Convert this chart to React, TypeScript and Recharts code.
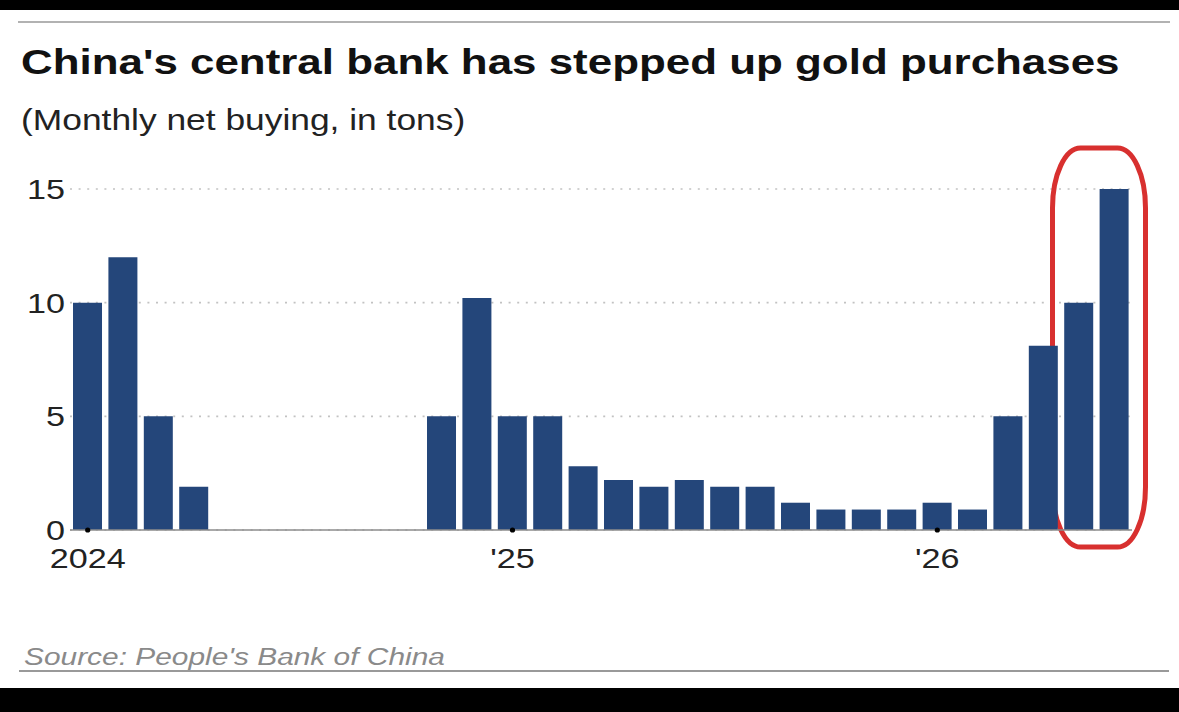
import React from 'react';
import { BarChart, Bar, XAxis, YAxis, CartesianGrid, ReferenceArea } from 'recharts';

// ---- data ----
const months: string[] = [
  '2024-01', '2024-02', '2024-03', '2024-04', '2024-05', '2024-06',
  '2024-07', '2024-08', '2024-09', '2024-10', '2024-11', '2024-12',
  '2025-01', '2025-02', '2025-03', '2025-04', '2025-05', '2025-06',
  '2025-07', '2025-08', '2025-09', '2025-10', '2025-11', '2025-12',
  '2026-01', '2026-02', '2026-03', '2026-04', '2026-05', '2026-06',
];
const tons: number[] = [
  10, 12, 5, 1.9, 0, 0, 0, 0, 0, 0, 5, 10.2,
  5, 5, 2.8, 2.2, 1.9, 2.2, 1.9, 1.9, 1.2, 0.9, 0.9, 0.9,
  1.2, 0.9, 5, 8.1, 10, 15,
];
const xTickValues: string[] = ['2024-01', '2025-01', '2026-01'];
const xTickLabels: string[] = ['2024', "'25", "'26"];
const yTickValues: number[] = [0, 5, 10, 15];
const highlightFrom = '2026-05';
const highlightTo = '2026-06';

const title = "China's central bank has stepped up gold purchases";
const subtitle = '(Monthly net buying, in tons)';
const source = "Source: People's Bank of China";

const data = months.map((m, i) => ({ month: m, tons: tons[i] }));
const labelFor: Record<string, string> = {};
xTickValues.forEach((v, i) => { labelFor[v] = xTickLabels[i]; });

// ---- style ----
const FONT = '"Liberation Sans", Arial, Helvetica, sans-serif';
const SX = 1.22; // horizontal stretch of the text in the reference
const BAR = '#24467a';
const X_TICK_MARGIN = 18;

const YTick = (props: any) => {
  const { x, y, payload } = props;
  return (
    <text
      transform={`translate(${x},${y}) scale(${SX},1)`}
      textAnchor="end"
      dy="0.355em"
      fontSize={28}
      fontFamily={FONT}
      fill="#222"
    >
      {payload.value}
    </text>
  );
};

const XTick = (props: any) => {
  const { x, y, payload } = props;
  return (
    <g>
      <circle cx={x} cy={y - X_TICK_MARGIN} r={2.6} fill="#000" />
      <text
        transform={`translate(${x},${y}) scale(${SX},1)`}
        textAnchor="middle"
        dy="0.71em"
        fontSize={28}
        fontFamily={FONT}
        fill="#222"
      >
        {labelFor[payload.value] ?? ''}
      </text>
    </g>
  );
};

const Highlight = (props: any) => {
  const { x, y, width, height } = props;
  return (
    <rect
      x={x - 8.7}
      y={y}
      width={width + 22.2}
      height={height}
      rx={28}
      ry={60}
      fill="none"
      stroke="#d8302f"
      strokeWidth={5}
    />
  );
};

export default function App() {
  return (
    <div
      style={{
        position: 'absolute',
        left: 0,
        top: 0,
        width: 1179,
        height: 712,
        background: '#fff',
        overflow: 'hidden',
      }}
    >
      <div style={{ position: 'absolute', left: 0, top: 0, width: 1179, height: 10, background: '#000' }} />
      <svg
        width={1179}
        height={712}
        style={{ position: 'absolute', left: 0, top: 0 }}
      >
        <line x1={18} x2={1170} y1={22} y2={22} stroke="#999" strokeWidth={1.5} />
        <text
          transform={`translate(21,73.5) scale(${SX},1)`}
          fontSize={36}
          fontWeight="bold"
          fontFamily={FONT}
          fill="#111"
        >
          {title}
        </text>
        <text
          transform={`translate(21,130) scale(${SX},1)`}
          fontSize={29}
          fontFamily={FONT}
          fill="#222"
        >
          {subtitle}
        </text>
        <text
          transform={`translate(24,665) scale(${SX},1)`}
          fontSize={24.5}
          fontStyle="italic"
          fontFamily={FONT}
          fill="#8a8a8a"
        >
          {source}
        </text>
        <line x1={19} x2={1169} y1={671} y2={671} stroke="#999" strokeWidth={2} />
      </svg>
      <div style={{ position: 'absolute', left: 0, top: 120 }}>
        <BarChart
          width={1179}
          height={480}
          data={data}
          margin={{ top: 69, right: 47, bottom: 20, left: 0 }}
          barCategoryGap="8.5%"
        >
          <CartesianGrid
            vertical={false}
            stroke="#c2c2c2"
            strokeWidth={1.6}
            strokeDasharray="2 6.6"
          />
          <YAxis
            type="number"
            domain={[0, 15]}
            ticks={yTickValues}
            width={70}
            axisLine={false}
            tickLine={false}
            tickSize={0}
            tickMargin={5}
            tick={<YTick />}
            interval={0}
          />
          <XAxis
            dataKey="month"
            ticks={xTickValues}
            interval={0}
            height={50}
            axisLine={{ stroke: '#8c8c8c', strokeWidth: 1.6 }}
            tickLine={false}
            tickSize={0}
            tickMargin={X_TICK_MARGIN}
            tick={<XTick />}
          />
          <Bar dataKey="tons" fill={BAR} isAnimationActive={false} />
          <ReferenceArea
            x1={highlightFrom}
            x2={highlightTo}
            y1={-0.75}
            y2={16.8}
            ifOverflow="visible"
            shape={<Highlight />}
          />
        </BarChart>
      </div>
      <div style={{ position: 'absolute', left: 0, top: 688, width: 1179, height: 24, background: '#000' }} />
    </div>
  );
}
